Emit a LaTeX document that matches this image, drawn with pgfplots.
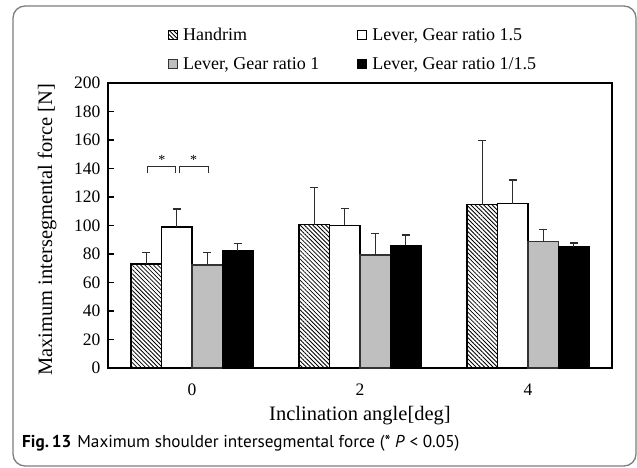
\documentclass[border=0pt]{standalone}
\usepackage{fontspec}
\setmainfont{Liberation Serif}
\newfontfamily\capfont{PT Sans}
\usepackage{pgfplots}
\pgfplotsset{compat=1.18}
\usetikzlibrary{patterns.meta}
\definecolor{bargray}{RGB}{191,191,191}
\definecolor{framegray}{RGB}{125,125,125}
\definecolor{errgray}{RGB}{45,45,45}

\newcommand{\tickfont}{\fontsize{17.5bp}{20bp}\selectfont}
\newcommand{\labfont}{\fontsize{20.5bp}{24bp}\selectfont}
\newcommand{\legfont}{\fontsize{18bp}{21bp}\selectfont}

\begin{document}
\begin{tikzpicture}
\begin{axis}[
  scale only axis, width=504bp, height=285bp,
  xmin=-0.5, xmax=2.5, ymin=0, ymax=200,
  xtick={0,1,2}, xticklabels={0,2,4},
  ytick={0,20,...,200},
  ytick pos=left, tick align=inside,
  major tick length=6bp,
  ytick style={black, line width=1.2bp},
  xtick style={draw=none},
  axis line style={black, line width=1.6bp},
  /pgf/number format/assume math mode=true,
  tick label style={font=\tickfont},
  yticklabel style={xshift=-4bp},
  xticklabel style={yshift=-6bp},
  xlabel={Inclination angle[deg]},
  ylabel={Maximum intersegmental force [N]},
  every axis x label/.style={at={(axis description cs:0.5,-0.1825)}, anchor=base, font=\labfont},
  every axis y label/.style={at={(axis description cs:-0.121,0.485)}, anchor=center, rotate=90, font=\labfont},
  ybar, bar width=30.5bp,
  error bars/y dir=plus, error bars/y explicit,
  error bars/error bar style={errgray, line width=1.2bp},
  error bars/error mark options={errgray, line width=1.2bp, mark size=4bp, rotate=90},
  legend columns=2,
  legend cell align=left,
  legend image code/.code={\draw[#1, line width=0.8bp] (0bp,-4.5bp) rectangle (9bp,4.5bp);
    \path (12bp,0bp);},
  legend style={at={(axis description cs:0.119,1.2)}, anchor=north west,
    draw=none, fill=none, inner sep=0pt, font=\legfont,
    row sep=11bp,
    /tikz/every even column/.append style={column sep=36bp}},
]
\addplot[draw=black, line width=1.2bp, pattern={Lines[angle=-45,distance=3bp,line width=0.8bp]}, bar shift=-45.75bp]
  coordinates {(0,73.0) +- (0,8.2) (1,100.6) +- (0,25.9) (2,114.6) +- (0,44.9)};
\addlegendentry{Handrim}
\addplot[draw=black, fill=white, line width=1.2bp, bar shift=-15.25bp]
  coordinates {(0,98.9) +- (0,12.7) (1,100.0) +- (0,11.8) (2,115.3) +- (0,16.6)};
\addlegendentry{Lever, Gear ratio 1.5}
\addplot[draw=black!80, fill=bargray, line width=1.2bp, bar shift=15.25bp]
  coordinates {(0,72.3) +- (0,8.9) (1,79.3) +- (0,15.2) (2,88.6) +- (0,8.4)};
\addlegendentry{Lever, Gear ratio 1}
\addplot[draw=black, fill=black, line width=1.2bp, bar shift=45.75bp]
  coordinates {(0,82.3) +- (0,5.2) (1,86.1) +- (0,7.2) (2,85.1) +- (0,2.6)};
\addlegendentry{Lever, Gear ratio 1/1.5}
% significance brackets
\draw[errgray, line width=1bp] (axis cs:-0.266,136.6) |- (axis cs:-0.097,141.3) -- (axis cs:-0.097,136.6);
\draw[errgray, line width=1bp] (axis cs:-0.076,136.6) |- (axis cs:0.097,141.3) -- (axis cs:0.097,136.6);
\node[font=\fontsize{14bp}{16bp}\selectfont, anchor=base] at (axis cs:-0.18,142.5) {*};
\node[font=\fontsize{14bp}{16bp}\selectfont, anchor=base] at (axis cs:0.01,142.5) {*};
\end{axis}
\draw[framegray, line width=1.3bp, rounded corners=12bp] (-95bp,362bp) rectangle (528bp,-98bp);
\node[anchor=base west, inner sep=0pt, font=\capfont\fontsize{17.2bp}{19bp}\selectfont]
  at (-86bp,-79bp) {\textbf{Fig.\,13}\hspace{6bp}Maximum shoulder intersegmental force (* \textit{P} < 0.05)};
\pgfresetboundingbox
\path[use as bounding box] (-108bp,-100bp) rectangle (529bp,368bp);
\end{tikzpicture}
\end{document}
